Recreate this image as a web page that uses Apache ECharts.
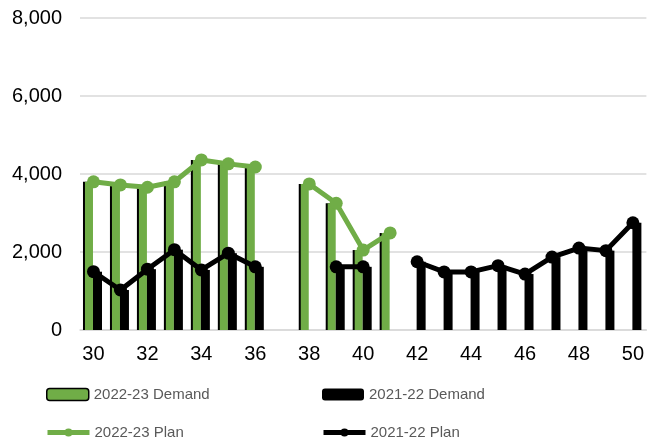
<!DOCTYPE html>
<html><head><meta charset="utf-8">
<script src="https://cdn.jsdelivr.net/npm/echarts@6/dist/echarts.min.js"></script>
<style>html,body{margin:0;padding:0;background:#fff}#c{width:647px;height:440px}</style>
</head><body><div id="c"></div>
<script>
const categories = ['30','31','32','33','34','35','36','37','38','39','40','41','42','43','44','45','46','47','48','49','50'];
const demand2223 = [3800,3720,3660,3800,4360,4260,4180,null,3745,3250,2050,2490,null,null,null,null,null,null,null,null,null];
const demand2122 = [1495,1025,1560,2060,1540,1970,1620,null,null,1620,1620,null,1750,1490,1490,1650,1435,1870,2100,2035,2750];
const plan2223 = [3800,3720,3660,3800,4360,4260,4180,null,3745,3250,2050,2490,null,null,null,null,null,null,null,null,null];
const plan2122 = [1495,1025,1560,2060,1540,1970,1620,null,null,1620,1620,null,1750,1490,1490,1650,1435,1870,2100,2035,2750];
const yTicks = {min:0, max:8000, interval:2000};

const GREEN = '#70AD47';
const chart = echarts.init(document.getElementById('c'), null, {renderer:'canvas'});
const legendText = {color:'#595959', fontSize:15, fontFamily:'Liberation Sans, Arial, sans-serif'};
function lg(name, left, top, extra){
  return Object.assign({data:[name], left:left, top:top, padding:0, itemWidth:42, itemHeight:12, itemGap:5, textStyle:legendText, selectedMode:false}, extra||{});
}
chart.setOption({
  animation:false,
  grid:{left:80, right:0, top:18, bottom:110},
  legend:[
    lg('2022-23 Demand', 46, 387, {itemStyle:{borderColor:'#000', borderWidth:1.5}}),
    lg('2021-22 Demand', 322, 387),
    lg('2022-23 Plan', 45, 425, {lineStyle:{width:5}, itemHeight:10}),
    lg('2021-22 Plan', 321, 425, {lineStyle:{width:5}, itemHeight:10})
  ],
  xAxis:{type:'category', data:categories,
    axisLine:{lineStyle:{color:'#d9d9d9', width:1.5}}, axisTick:{show:false},
    axisLabel:{interval:1, color:'#000', fontSize:20, margin:14, fontFamily:'Liberation Sans, Arial, sans-serif'}},
  yAxis:{type:'value', min:yTicks.min, max:yTicks.max, interval:yTicks.interval,
    axisLine:{show:false}, axisTick:{show:false},
    splitLine:{lineStyle:{color:'#d9d9d9', width:1.5}},
    axisLabel:{color:'#000', fontSize:20, margin:18, fontFamily:'Liberation Sans, Arial, sans-serif',
      formatter:v=>v.toLocaleString('en-US')}},
  series:[
    {name:'2022-23 Demand', type:'bar', data:demand2223, barWidth:8, barGap:'0%',
      itemStyle:{color:GREEN, shadowColor:'#000', shadowOffsetX:-2, shadowOffsetY:0, shadowBlur:0}},
    {name:'2021-22 Demand', type:'bar', data:demand2122, barWidth:9, barGap:'0%',
      itemStyle:{color:'#000'}},
    {name:'2022-23 Plan', type:'line', data:plan2223, connectNulls:false,
      symbol:'circle', symbolSize:13, showSymbol:true,
      lineStyle:{color:GREEN, width:5}, itemStyle:{color:GREEN}},
    {name:'2021-22 Plan', type:'line', data:plan2122, connectNulls:false,
      symbol:'circle', symbolSize:13, showSymbol:true,
      lineStyle:{color:'#000', width:5}, itemStyle:{color:'#000'}}
  ]
});
</script></body></html>
